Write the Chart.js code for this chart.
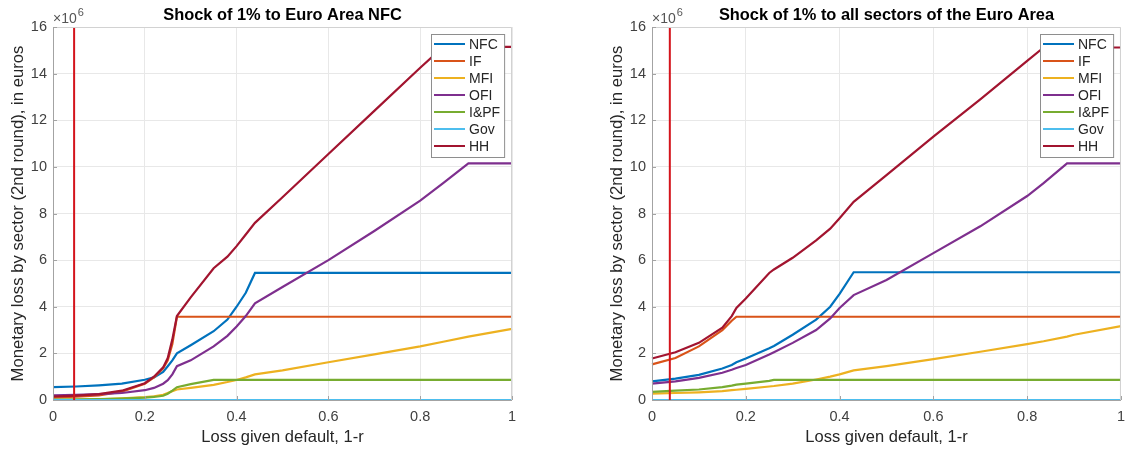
<!DOCTYPE html>
<html>
<head>
<meta charset="utf-8">
<script src="https://cdn.jsdelivr.net/npm/chart.js@4.4.1/dist/chart.umd.min.js"></script>
<style>
    body { margin: 0; background: #fff; width: 1133px; height: 449px; overflow: hidden; position: relative; }
    .panel { position: absolute; top: 0; height: 449px; }
</style>
</head>
<body>
<div class="panel" style="left:0;width:566px"><canvas id="nfc_shock"></canvas></div>
<div class="panel" style="left:599px;width:534px"><canvas id="all_shock"></canvas></div>
<script>
var sectors = ['NFC', 'IF', 'MFI', 'OFI', 'I&PF', 'Gov', 'HH'];
var sectorColors = ['#0072BD', '#D95319', '#EDB120', '#7E2F8E', '#77AC30', '#4DBEEE', '#A2142F'];
var xTicks = [0, 0.2, 0.4, 0.6, 0.8, 1];
var yTicks = [0, 2, 4, 6, 8, 10, 12, 14, 16];

// shock to euro area NFC (values in millions of euros)
var leftLgd = [0, 0.05, 0.1, 0.15, 0.2, 0.22, 0.24, 0.25, 0.26, 0.27, 0.3, 0.35, 0.38, 0.4, 0.42, 0.44, 0.5, 0.6, 0.7, 0.8, 0.85, 0.905, 1];
var leftNFC = [0.55, 0.58, 0.63, 0.70, 0.87, 0.97, 1.2, 1.45, 1.7, 2.0, 2.35, 2.95, 3.45, 4.0, 4.6, 5.45, 5.45, 5.45, 5.45, 5.45, 5.45, 5.45, 5.45];
var leftIF  = [0.10, 0.14, 0.20, 0.36, 0.70, 0.97, 1.36, 1.7, 2.4, 3.57, 3.57, 3.57, 3.57, 3.57, 3.57, 3.57, 3.57, 3.57, 3.57, 3.57, 3.57, 3.57, 3.57];
var leftMFI = [0, 0.01, 0.03, 0.07, 0.12, 0.16, 0.22, 0.30, 0.38, 0.45, 0.52, 0.65, 0.77, 0.86, 0.97, 1.1, 1.27, 1.62, 1.96, 2.3, 2.5, 2.72, 3.05];
var leftOFI = [0.2, 0.22, 0.25, 0.3, 0.42, 0.52, 0.7, 0.85, 1.1, 1.45, 1.7, 2.3, 2.75, 3.15, 3.6, 4.15, 4.85, 6.0, 7.25, 8.55, 9.3, 10.15, 10.15];
var leftIPF = [0.02, 0.03, 0.04, 0.06, 0.10, 0.13, 0.18, 0.27, 0.40, 0.55, 0.68, 0.86, 0.86, 0.86, 0.86, 0.86, 0.86, 0.86, 0.86, 0.86, 0.86, 0.86, 0.86];
var leftGov = [0, 0, 0, 0, 0, 0, 0, 0, 0, 0, 0, 0, 0, 0, 0, 0, 0, 0, 0, 0, 0, 0, 0];
var leftHH  = [0.15, 0.19, 0.25, 0.40, 0.72, 1.0, 1.4, 1.8, 2.6, 3.6, 4.4, 5.65, 6.15, 6.6, 7.1, 7.6, 8.7, 10.55, 12.4, 14.25, 15.15, 15.15, 15.15];
var leftCut = 0.046;

// shock to all sectors
var rightLgd = [0, 0.05, 0.1, 0.15, 0.17, 0.18, 0.2, 0.25, 0.26, 0.3, 0.35, 0.38, 0.4, 0.43, 0.5, 0.6, 0.7, 0.8, 0.835, 0.885, 0.9, 1];
var rightNFC = [0.80, 0.92, 1.08, 1.35, 1.5, 1.62, 1.78, 2.22, 2.32, 2.8, 3.45, 4.0, 4.55, 5.48, 5.48, 5.48, 5.48, 5.48, 5.48, 5.48, 5.48, 5.48];
var rightIF  = [1.53, 1.8, 2.3, 3.0, 3.4, 3.57, 3.57, 3.57, 3.57, 3.57, 3.57, 3.57, 3.57, 3.57, 3.57, 3.57, 3.57, 3.57, 3.57, 3.57, 3.57, 3.57];
var rightMFI = [0.27, 0.3, 0.33, 0.38, 0.42, 0.44, 0.48, 0.58, 0.6, 0.7, 0.88, 1.0, 1.1, 1.27, 1.45, 1.75, 2.07, 2.4, 2.52, 2.72, 2.8, 3.17];
var rightOFI = [0.70, 0.8, 0.95, 1.17, 1.3, 1.37, 1.5, 1.95, 2.05, 2.45, 3.0, 3.5, 3.95, 4.5, 5.15, 6.3, 7.45, 8.75, 9.3, 10.15, 10.15, 10.15];
var rightIPF = [0.35, 0.4, 0.45, 0.55, 0.62, 0.66, 0.7, 0.82, 0.86, 0.86, 0.86, 0.86, 0.86, 0.86, 0.86, 0.86, 0.86, 0.86, 0.86, 0.86, 0.86, 0.86];
var rightGov = [0, 0, 0, 0, 0, 0, 0, 0, 0, 0, 0, 0, 0, 0, 0, 0, 0, 0, 0, 0, 0, 0];
var rightHH  = [1.78, 2.05, 2.45, 3.1, 3.6, 3.95, 4.35, 5.45, 5.6, 6.1, 6.85, 7.35, 7.8, 8.5, 9.65, 11.3, 12.9, 14.55, 15.12, 15.12, 15.12, 15.12];
var rightCut = 0.038;

var FONT = '"Liberation Sans", Arial, Helvetica, sans-serif';
Chart.defaults.font.family = FONT;

// matlab style box, legend, title and exponent
var matlabLook = {
    id: 'matlabLook',
    afterDatasetsDraw: function(chart){
        var a = chart.chartArea, ctx = chart.ctx;
        var xs = chart.scales.x, ys = chart.scales.y;
        ctx.save();
        ctx.lineWidth = 1;
        ctx.strokeStyle = '#d2d2d2';
        ctx.beginPath();
        ctx.moveTo(a.left, a.top + 0.5);
        ctx.lineTo(a.right - 0.5, a.top + 0.5);
        ctx.lineTo(a.right - 0.5, a.bottom);
        ctx.stroke();

        ctx.strokeStyle = '#a3a3a3';
        ctx.beginPath();
        ctx.moveTo(a.left + 0.5, a.top);
        ctx.lineTo(a.left + 0.5, a.bottom + 0.5);
        ctx.lineTo(a.right, a.bottom + 0.5);
        xTicks.forEach(function(v){
            var px = Math.round(xs.getPixelForValue(v)) + 0.5;
            ctx.moveTo(px, a.bottom);
            ctx.lineTo(px, a.bottom - 4);
        });
        yTicks.forEach(function(v){
            var py = Math.round(ys.getPixelForValue(v)) + 0.5;
            ctx.moveTo(a.left, py);
            ctx.lineTo(a.left + 4, py);
        });
        ctx.stroke();

        // legend
        var items = chart.data.datasets.filter(function(d){ return d.label != 'cutoff'; });
        ctx.font = '14px ' + FONT;
        var tw = 0;
        items.forEach(function(d){ tw = Math.max(tw, ctx.measureText(d.label).width); });
        var rowH = 17, w = 3 + 31 + 4 + tw + 4, h = items.length * rowH + 4;
        var bx = Math.round(a.right - 8 - w), by = Math.round(a.top + 7);
        ctx.fillStyle = '#fff';
        ctx.fillRect(bx, by, w, h);
        ctx.strokeStyle = '#8e8e8e';
        ctx.strokeRect(bx + 0.5, by + 0.5, w, h);
        ctx.textBaseline = 'middle';
        ctx.textAlign = 'left';
        items.forEach(function(d, i){
            var cy = by + 10 + i * rowH;
            ctx.strokeStyle = d.borderColor;
            ctx.lineWidth = 2;
            ctx.beginPath();
            ctx.moveTo(bx + 3, cy);
            ctx.lineTo(bx + 34, cy);
            ctx.stroke();
            ctx.fillStyle = '#262626';
            ctx.fillText(d.label, bx + 38, cy + 1);
        });
        ctx.restore();
    },
    afterDraw: function(chart){
        var a = chart.chartArea, ctx = chart.ctx;
        ctx.save();
        ctx.fillStyle = '#000';
        ctx.font = 'bold 16.4px ' + FONT;
        ctx.textAlign = 'center';
        ctx.textBaseline = 'middle';
        ctx.fillText(chart.options.plotTitle, (a.left + a.right) / 2, 15);

        ctx.fillStyle = '#555';
        ctx.textAlign = 'left';
        ctx.textBaseline = 'alphabetic';
        ctx.font = '14px ' + FONT;
        ctx.fillText('\u00d710', a.left, 23);
        var ew = ctx.measureText('\u00d710').width;
        ctx.font = '11px ' + FONT;
        ctx.fillText('6', a.left + ew + 1, 16);
        ctx.restore();
    }
};

function loss_chart(canvasId, titleText, lgd, series, cutX, padRight){
    var datasets = sectors.map(function(name, i){
        return {
            label: name,
            data: lgd.map(function(x, j){ return {x: x, y: series[i][j]}; }),
            borderColor: sectorColors[i],
            backgroundColor: sectorColors[i],
            borderWidth: 2.2,
            pointRadius: 0,
            tension: 0,
            order: sectors.length - i,
            clip: name == 'Gov' ? 0 : 4
        };
    });
    datasets.push({
        label: 'cutoff',
        data: [{x: cutX, y: yTicks[0]}, {x: cutX, y: yTicks[yTicks.length - 1]}],
        borderColor: '#d4141c',
        borderWidth: 2,
        pointRadius: 0,
        order: 0
    });

    var ctx = document.getElementById(canvasId).getContext('2d');
    return new Chart(ctx, {
        type: 'line',
        data: { datasets: datasets },
        options: {
            plotTitle: titleText,
            responsive: true,
            maintainAspectRatio: false,
            animation: false,
            layout: { padding: { top: 27, right: padRight, left: 0, bottom: 0 } },
            scales: {
                x: {
                    type: 'linear',
                    min: 0,
                    max: 1,
                    afterBuildTicks: function(scale){ scale.ticks = xTicks.map(function(v){ return {value: v}; }); },
                    afterFit: function(scale){ scale.height = 49; },
                    grid: { color: '#e8e8e8', drawTicks: false },
                    border: { display: false },
                    ticks: {
                        padding: 8,
                        color: '#404040',
                        font: { size: 14.5 },
                        maxRotation: 0,
                        callback: function(v){ return String(v); }
                    },
                    title: {
                        display: true,
                        text: 'Loss given default, 1-r',
                        color: '#262626',
                        font: { size: 16.5 },
                        padding: { top: 0, bottom: 2 }
                    }
                },
                y: {
                    min: 0,
                    max: 16,
                    afterBuildTicks: function(scale){ scale.ticks = yTicks.map(function(v){ return {value: v}; }); },
                    afterFit: function(scale){ scale.width = 53; },
                    grid: { color: '#e8e8e8', drawTicks: false },
                    border: { display: false },
                    ticks: {
                        padding: 6,
                        color: '#404040',
                        font: { size: 14.5 },
                        callback: function(v){ return String(v); }
                    },
                    title: {
                        display: true,
                        text: 'Monetary loss by sector (2nd round), in euros',
                        color: '#262626',
                        font: { size: 16.7 },
                        padding: { top: 8, bottom: 0 }
                    }
                }
            },
            plugins: {
                legend: { display: false },
                tooltip: { enabled: false }
            }
        },
        plugins: [matlabLook]
    });
}

loss_chart('nfc_shock', 'Shock of 1% to Euro Area NFC', leftLgd,
    [leftNFC, leftIF, leftMFI, leftOFI, leftIPF, leftGov, leftHH], leftCut, 54);
loss_chart('all_shock', 'Shock of 1% to all sectors of the Euro Area', rightLgd,
    [rightNFC, rightIF, rightMFI, rightOFI, rightIPF, rightGov, rightHH], rightCut, 5);
</script>
</body>
</html>
